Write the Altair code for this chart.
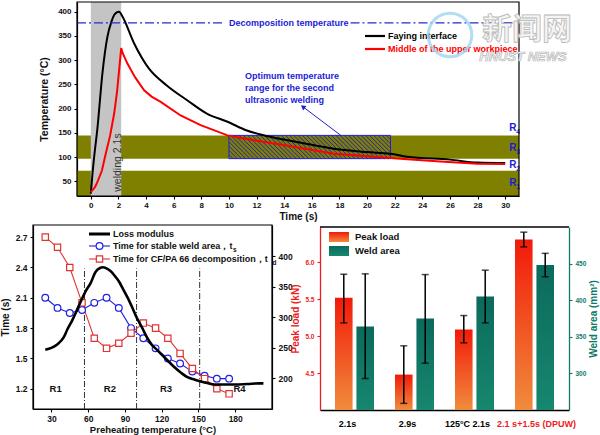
import altair as alt
import pandas as pd
import numpy as np

W, H = 600, 435
FONT = "Liberation Sans"
OLIVE = "#808000"
BLUE = "#1c1cd8"
RED = "#ee1c1c"
TEAL = "#0f7a69"

# ---------------- top panel data ----------------
faying_time = [0, 0.12, 0.24, 0.48, 0.84, 1.2, 1.5, 1.69, 1.85, 2.05, 2.29, 3.13, 4.2, 5.5, 7.0, 8.4, 9.9, 11.3, 13.0, 15.2, 17.6, 20.0, 21.7, 22.9, 26.0, 28.0, 30.0]
faying_temp = [25, 66, 100, 160, 273, 348, 380, 393, 398, 400, 390, 335, 283, 248, 217, 190, 173, 155, 142, 130, 117.5, 110.5, 107, 101, 95, 89, 88]
middle_time = [0, 0.3, 0.48, 0.8, 1.08, 1.4, 1.69, 1.9, 2.05, 2.2, 2.3, 2.65, 3.2, 3.86, 4.4, 5.06, 6.5, 7.95, 9.9, 11.8, 13.5, 15.2, 17.6, 20.0, 22.4, 25.3, 28.0, 30.0]
middle_temp = [28, 38, 49, 72, 107, 145, 190, 235, 280, 325, 315, 293, 265, 238, 225, 214, 186, 166, 145, 135, 127, 119, 107, 102, 97, 91, 86.5, 86]
band_low = [20, 97]
band_high = [72, 145]
top_region_letter = ["R", "R", "R", "R"]
top_region_index = ["1", "2", "3", "4"]
top_region_temp = [46, 83, 118, 161]
weld_window = [0, 2.2]
optimum_time = [10, 21.7]
optimum_temp = [97, 145]
decomp_temp = 377
decomp_segments_start = [-1, 18.8]
decomp_segments_end = [9.5, 31]

# ---------------- bottom-left data ----------------
preheat = [25, 35, 45, 55, 65, 75, 85, 95, 105, 115, 125, 135, 145, 155, 165, 175]
t_stable = [2.10, 2.00, 1.95, 1.98, 2.05, 2.10, 2.00, 1.80, 1.70, 1.60, 1.50, 1.45, 1.37, 1.33, 1.30, 1.30]
t_decomp = [2.70, 2.60, 2.40, 2.05, 1.70, 1.60, 1.65, 1.75, 1.85, 1.80, 1.70, 1.55, 1.40, 1.30, 1.20, 1.15]
loss_T = [25, 30, 35, 40, 43, 47, 50, 54, 58, 62, 66, 70, 72, 75, 78, 82, 85, 88, 92, 96,
          100, 104, 108, 112, 116, 120, 125, 130, 136, 141, 147, 152, 158, 163, 168, 175, 180, 190, 200, 203]
loss_mod = [247, 250, 256, 267, 280, 295, 308, 326, 343, 356, 374, 381, 382, 380, 376, 367, 359, 348, 333, 316,
            298, 283, 267, 255, 247, 239, 229, 219, 209, 202, 198, 195, 192, 190, 190, 190, 190, 191, 192, 192]
region_bounds = [57, 99.5, 151]
bl_regions = ["R1", "R2", "R3", "R4"]
bl_region_T = [33.5, 77.7, 123.5, 183.5]

# ---------------- bottom-right data ----------------
groups = ["2.1s", "2.9s", "125°C  2.1s", "2.1 s+1.5s (DPUW)"]
peak = [5.52, 4.48, 5.09, 6.31]
peak_lo = [5.18, 4.09, 4.91, 6.21]
peak_hi = [5.84, 4.87, 5.28, 6.41]
weld = [364, 375, 405, 448]
weld_lo = [293, 314, 369, 432]
weld_hi = [436, 435, 441, 464]

# ======================= TOP PANEL =======================
TXD, TYD = [-1, 31], [20, 420]
TXR, TYR = [77, 519], [196, 2]
x_top = alt.Scale(domain=TXD, range=TXR, nice=False, zero=False)
y_top = alt.Scale(domain=TYD, range=TYR, nice=False, zero=False)
ax_tx = alt.Axis(orient="bottom", offset=TYR[0] - H, values=list(range(0, 31, 2)), title="Time (s)",
                 labelFontSize=8, titleFontSize=10, tickSize=3, labelPadding=2, titlePadding=2)
ax_ty = alt.Axis(orient="left", offset=-TXR[0], values=list(range(50, 401, 50)), title="Temperature (°C)",
                 labelFontSize=8, titleFontSize=10.5, tickSize=3, labelPadding=3, titlePadding=8)


def TX(field=None, datum=None):
    if field is not None:
        return alt.X(field, type="quantitative", scale=x_top, axis=ax_tx)
    return alt.X(datum=datum, type="quantitative", scale=x_top, axis=ax_tx)


def TY(field=None, datum=None):
    if field is not None:
        return alt.Y(field, type="quantitative", scale=y_top, axis=ax_ty)
    return alt.Y(datum=datum, type="quantitative", scale=y_top, axis=ax_ty)


one = pd.DataFrame({"a": [0]})

bands = alt.Chart(pd.DataFrame({"lo": band_low, "hi": band_high})).mark_rect(color=OLIVE).encode(
    x=TX(datum=TXD[0]), x2=alt.X2(datum=TXD[1]), y=TY("lo"), y2=alt.Y2("hi"))
weld_band = alt.Chart(one).mark_rect(color="#c4c4c4").encode(
    x=TX(datum=weld_window[0]), x2=alt.X2(datum=weld_window[1]), y=TY(datum=TYD[0]), y2=alt.Y2(datum=TYD[1]))


def to_px_x(v):
    return TXR[0] + (v - TXD[0]) / (TXD[1] - TXD[0]) * (TXR[1] - TXR[0])


def to_px_y(v):
    return TYR[0] + (v - TYD[0]) / (TYD[1] - TYD[0]) * (TYR[1] - TYR[0])


def from_px_x(p):
    return TXD[0] + (p - TXR[0]) / (TXR[1] - TXR[0]) * (TXD[1] - TXD[0])


def from_px_y(p):
    return TYD[0] + (p - TYR[0]) / (TYR[1] - TYR[0]) * (TYD[1] - TYD[0])


# hatch lines inside the optimum rectangle (computed from its bounds)
X0, X1 = to_px_x(optimum_time[0]), to_px_x(optimum_time[1])
Y0, Y1 = to_px_y(optimum_temp[1]), to_px_y(optimum_temp[0])
hx, hy, hx2, hy2 = [], [], [], []
for c in np.arange(X0 - Y1, X1 - Y0, 4.2):
    lo = max(Y0, X0 - c)
    hi = min(Y1, X1 - c)
    if hi > lo:
        hx.append(from_px_x(lo + c)); hy.append(from_px_y(lo))
        hx2.append(from_px_x(hi + c)); hy2.append(from_px_y(hi))
hatch = alt.Chart(pd.DataFrame({"x": hx, "y": hy, "x2": hx2, "y2": hy2})).mark_rule(
    color="#2020c8", strokeWidth=1).encode(x=TX("x"), y=TY("y"), x2="x2", y2="y2")
opt_box = alt.Chart(one).mark_rect(fillOpacity=0, stroke="#2020d0", strokeWidth=1).encode(
    x=TX(datum=optimum_time[0]), x2=alt.X2(datum=optimum_time[1]),
    y=TY(datum=optimum_temp[0]), y2=alt.Y2(datum=optimum_temp[1]))

faying = alt.Chart(pd.DataFrame({"t": faying_time, "T": faying_temp})).mark_line(
    color="black", strokeWidth=2, interpolate="monotone").encode(x=TX("t"), y=TY("T"), order="t:Q")
middle = alt.Chart(pd.DataFrame({"t": middle_time, "T": middle_temp})).mark_line(
    color="#ff0000", strokeWidth=2, interpolate="linear").encode(x=TX("t"), y=TY("T"), order="t:Q")

decomp = alt.Chart(pd.DataFrame({"a": decomp_segments_start, "b": decomp_segments_end, "T": [decomp_temp] * 2})).mark_rule(
    color="#2a2ad0", strokeWidth=1.2, strokeDash=[9, 3, 2, 3]).encode(x=TX("a"), x2="b", y=TY("T"))
decomp_txt = alt.Chart(pd.DataFrame({"t": [10.0], "T": [decomp_temp], "s": ["Decomposition temperature"]})).mark_text(
    font=FONT, fontWeight="bold", fontSize=9, color=BLUE, align="left", baseline="middle").encode(
    x=TX("t"), y=TY("T"), text="s:N")

opt_txt = alt.Chart(pd.DataFrame({"t": [11.16], "T": [276], "s": ["Optimum temperature\nrange for the second\nultrasonic welding"]})).mark_text(
    font=FONT, fontWeight="bold", fontSize=9, color=BLUE, align="left", baseline="top", lineBreak="\n",
    lineHeight=12).encode(x=TX("t"), y=TY("T"), text="s:N")
arrow = alt.Chart(pd.DataFrame({"t": [18.1], "T": [145], "t2": [15.4], "T2": [203]})).mark_rule(
    color="#2020c8", strokeWidth=1).encode(x=TX("t"), y=TY("T"), x2="t2", y2="T2")
arrow_head = alt.Chart(pd.DataFrame({"t": [15.4], "T": [203]})).mark_point(
    shape="triangle", filled=True, color="#2020c8", size=30, angle=307, opacity=1).encode(x=TX("t"), y=TY("T"))

weld_txt = alt.Chart(pd.DataFrame({"t": [1.95], "T": [89], "s": ["welding 2.1s"]})).mark_text(
    font=FONT, fontSize=10.5, color="#333333", angle=270, align="center", baseline="middle").encode(
    x=TX("t"), y=TY("T"), text="s:N")
reg_df = pd.DataFrame({"t": [30.3] * 4, "T": top_region_temp, "s": top_region_letter, "i": top_region_index})
top_reg = alt.Chart(reg_df).mark_text(
    font=FONT, fontWeight="bold", fontSize=10, color=BLUE, align="left", baseline="middle").encode(
    x=TX("t"), y=TY("T"), text="s:N")
top_reg_sub = alt.Chart(reg_df).mark_text(
    font=FONT, fontWeight="bold", fontSize=6.5, color=BLUE, align="left", baseline="middle", dx=7, dy=4).encode(
    x=TX("t"), y=TY("T"), text="i:N")
top_frame = alt.Chart(one).mark_rect(fillOpacity=0, stroke="black", strokeWidth=1.2).encode(
    x=TX(datum=TXD[0]), x2=alt.X2(datum=TXD[1]), y=TY(datum=TYD[0]), y2=alt.Y2(datum=TYD[1]))

top = alt.layer(bands, weld_band, hatch, opt_box, faying, middle, decomp, decomp_txt, opt_txt,
                arrow, arrow_head, weld_txt, top_reg, top_reg_sub, top_frame)

# ======================= BOTTOM-LEFT PANEL =======================
BXD, BYD, BRD = [15, 210], [1.0, 2.82], [150, 451]
BXR, BYR = [33, 272], [409, 225]
x_bl = alt.Scale(domain=BXD, range=BXR, nice=False, zero=False)
y_bl = alt.Scale(domain=BYD, range=BYR, nice=False, zero=False)
y_blr = alt.Scale(domain=BRD, range=BYR, nice=False, zero=False)
ax_blx = alt.Axis(orient="bottom", offset=BYR[0] - H, values=[30, 60, 90, 120, 150, 180],
                  title="Preheating temperature (°C)", labelFontSize=8.5, titleFontSize=9.5,
                  tickSize=3, labelPadding=2, titlePadding=2)
ax_bly = alt.Axis(orient="left", offset=-BXR[0], values=[1.2, 1.5, 1.8, 2.1, 2.4, 2.7], format=".1f",
                  title="Time (s)", labelFontSize=8.5, titleFontSize=10, tickSize=3, labelPadding=3, titlePadding=5)
ax_blr = alt.Axis(orient="right", offset=BXR[1] - W, values=[200, 250, 300, 350, 400], title=None,
                  labelFontSize=8.5, tickSize=3, labelPadding=3)


def BX(field=None, datum=None):
    if field is not None:
        return alt.X(field, type="quantitative", scale=x_bl, axis=ax_blx)
    return alt.X(datum=datum, type="quantitative", scale=x_bl, axis=ax_blx)


def BY(field=None, datum=None):
    if field is not None:
        return alt.Y(field, type="quantitative", scale=y_bl, axis=ax_bly)
    return alt.Y(datum=datum, type="quantitative", scale=y_bl, axis=ax_bly)


bl_df = pd.DataFrame({"T": preheat, "ts": t_stable, "td": t_decomp})
bl_frame = alt.Chart(one).mark_rect(fillOpacity=0, stroke="black", strokeWidth=1.2).encode(
    x=BX(datum=BXD[0]), x2=alt.X2(datum=BXD[1]), y=BY(datum=BYD[0]), y2=alt.Y2(datum=BYD[1]))
vlines = alt.Chart(pd.DataFrame({"T": region_bounds, "lo": [BYD[0]] * 3, "hi": [2.39] * 3})).mark_rule(
    color="#333333", strokeWidth=1, strokeDash=[6, 2, 1, 2]).encode(x=BX("T"), y=BY("lo"), y2="hi")
ts_line = alt.Chart(bl_df).mark_line(color="#1f1fe6", strokeWidth=1.1).encode(x=BX("T"), y=BY("ts"))
ts_pts = alt.Chart(bl_df).mark_point(shape="circle", color="#1f1fe6", fill="white", filled=True, stroke="#1f1fe6",
                                     strokeWidth=1.2, size=45, opacity=1).encode(x=BX("T"), y=BY("ts"))
td_line = alt.Chart(bl_df).mark_line(color="#e03333", strokeWidth=1.1).encode(x=BX("T"), y=BY("td"))
td_pts = alt.Chart(bl_df).mark_point(shape="square", color="#e03333", fill="white", filled=True, stroke="#e03333",
                                     strokeWidth=1.2, size=40, opacity=1).encode(x=BX("T"), y=BY("td"))
bl_reg = alt.Chart(pd.DataFrame({"T": bl_region_T, "y": [1.2] * 4, "s": bl_regions})).mark_text(
    font=FONT, fontWeight="bold", fontSize=9.5, color="#111111", baseline="middle").encode(
    x=BX("T"), y=BY("y"), text="s:N")
loss = alt.Chart(pd.DataFrame({"T": loss_T, "E": loss_mod})).mark_line(
    color="black", strokeWidth=2.6, interpolate="monotone").encode(
    x=BX("T"), y=alt.Y("E", type="quantitative", scale=y_blr, axis=ax_blr))

bl = alt.layer(
    alt.layer(bl_frame, vlines, ts_line, td_line, ts_pts, td_pts, bl_reg),
    loss,
).resolve_scale(y="independent")

# ======================= BOTTOM-RIGHT PANEL =======================
RXR, RYR = [320, 569], [410, 227]
PD, WD = [4.0, 6.48], [250, 500]
x_br = alt.Scale(type="band", domain=groups, range=RXR, paddingInner=0.35, paddingOuter=0.25)
xo_br = alt.Scale(type="band", domain=["Peak load", "Weld area"], paddingInner=0.18, paddingOuter=0)
y_pk = alt.Scale(domain=PD, range=RYR, nice=False, zero=False)
y_wa = alt.Scale(domain=WD, range=RYR, nice=False, zero=False)
ax_brx = alt.Axis(orient="bottom", offset=RYR[0] - H, ticks=False, title=None, labelFontSize=9, labelPadding=9,
                  labelAngle=0, domainWidth=1.3,
                  labelColor={"condition": {"test": "datum.value === '2.1 s+1.5s (DPUW)'", "value": RED}, "value": "black"},
                  labelOffset={"condition": {"test": "datum.value === '2.1 s+1.5s (DPUW)'", "value": 2}, "value": -7})
ax_pk = alt.Axis(orient="left", offset=-RXR[0], values=[4.5, 5.0, 5.5, 6.0], format=".1f", title="Peak load (kN)",
                 labelColor=RED, titleColor=RED, domainColor=RED, tickColor=RED, labelFontSize=6.5,
                 titleFontSize=10, tickSize=3, labelPadding=3, titlePadding=4, domainWidth=1.3)
ax_wa = alt.Axis(orient="right", offset=RXR[1] - W, values=[300, 350, 400, 450], title="Weld area (mm²)",
                 labelColor=TEAL, titleColor=TEAL, domainColor=TEAL, tickColor=TEAL, labelFontSize=6.5,
                 titleFontSize=10, tickSize=3, labelPadding=3, titlePadding=3, domainWidth=1.3,
                 titleAngle=270, titleBaseline="top")

grad_red = alt.LinearGradient(gradient="linear", x1=0, x2=0, y1=0, y2=1,
                              stops=[alt.GradientStop(color="#f21a0a", offset=0),
                                     alt.GradientStop(color="#f08c3c", offset=1)])
grad_teal = alt.LinearGradient(gradient="linear", x1=0, x2=0, y1=0, y2=1,
                               stops=[alt.GradientStop(color="#0b6a5c", offset=0),
                                      alt.GradientStop(color="#17876f", offset=1)])

pk_df = pd.DataFrame({"g": groups, "series": "Peak load", "v": peak, "lo": peak_lo, "hi": peak_hi})
wa_df = pd.DataFrame({"g": groups, "series": "Weld area", "v": weld, "lo": weld_lo, "hi": weld_hi})
XB = alt.X("g:N", scale=x_br, axis=ax_brx)
XO = alt.XOffset("series:N", scale=xo_br)


def bar_group(df, grad, yscale, yaxis, base):
    Yf = lambda f: alt.Y(f, type="quantitative", scale=yscale, axis=yaxis)
    b = alt.Chart(df).mark_bar(color=grad).encode(x=XB, xOffset=XO, y=Yf("v"), y2=alt.Y2(datum=base))
    e = alt.Chart(df).mark_rule(color="black", strokeWidth=1.5).encode(x=XB, xOffset=XO, y=Yf("lo"), y2="hi")
    c = alt.Chart(df).transform_fold(["lo", "hi"], as_=["k", "e"]).mark_tick(
        color="black", thickness=1.5, size=7, orient="horizontal").encode(x=XB, xOffset=XO, y=Yf("e:Q"))
    return alt.layer(b, e, c)


br = alt.layer(
    bar_group(pk_df, grad_red, y_pk, ax_pk, PD[0]),
    bar_group(wa_df, grad_teal, y_wa, ax_wa, WD[0]),
).resolve_scale(y="independent")

# ======================= legends, frames, watermark (pixel placed) =======================
PX = lambda f: alt.X(f, type="quantitative", scale=None, axis=None)
PY = lambda f: alt.Y(f, type="quantitative", scale=None, axis=None)

br_top = alt.Chart(pd.DataFrame({"x": [RXR[0]], "x2": [RXR[1]], "y": [RYR[1]]})).mark_rule(
    color="black", strokeWidth=1.3).encode(x=PX("x"), x2="x2", y=PY("y"))

top_leg_lines = alt.Chart(pd.DataFrame({"x": [365, 365], "x2": [385, 385], "y": [36, 49], "c": ["black", "#ff0000"]})).mark_rule(
    strokeWidth=2.2).encode(x=PX("x"), x2="x2", y=PY("y"), color=alt.Color("c:N", scale=None))
top_leg_txt = alt.Chart(pd.DataFrame({"x": [388, 388], "y": [36, 49], "s": ["Faying interface", "Middle of the upper workpiece"],
                                      "c": ["black", "#ff0000"]})).mark_text(
    font=FONT, fontWeight="bold", fontSize=9, align="left", baseline="middle").encode(
    x=PX("x"), y=PY("y"), text="s:N", color=alt.Color("c:N", scale=None))

bl_leg_lines = alt.Chart(pd.DataFrame({"x": [89, 89, 89], "x2": [110, 110, 110], "y": [234, 246, 259],
                                       "c": ["black", "#1f1fe6", "#e03333"], "w": [3, 1.1, 1.1]})).mark_rule().encode(
    x=PX("x"), x2="x2", y=PY("y"), color=alt.Color("c:N", scale=None), strokeWidth=alt.StrokeWidth("w:Q", scale=None))
bl_leg_circ = alt.Chart(pd.DataFrame({"x": [99.5], "y": [246]})).mark_point(
    shape="circle", fill="white", filled=True, stroke="#1f1fe6", strokeWidth=1.2, size=45, opacity=1).encode(x=PX("x"), y=PY("y"))
bl_leg_sq = alt.Chart(pd.DataFrame({"x": [99.5], "y": [259]})).mark_point(
    shape="square", fill="white", filled=True, stroke="#e03333", strokeWidth=1.2, size=40, opacity=1).encode(x=PX("x"), y=PY("y"))
bl_leg_txt = alt.Chart(pd.DataFrame({"x": [113, 113, 113], "y": [234, 246, 259],
                                     "s": ["Loss modulus", "Time for stable weld area，t", "Time for CF/PA 66 decomposition，t"]})).mark_text(
    font=FONT, fontWeight="bold", fontSize=9, align="left", baseline="middle", color="#111111").encode(
    x=PX("x"), y=PY("y"), text="s:N")
bl_leg_sub = alt.Chart(pd.DataFrame({"x": [233, 272.5], "y": [249.5, 262.5], "s": ["s", "d"]})).mark_text(
    font=FONT, fontWeight="bold", fontSize=6.5, align="left", baseline="middle", color="#111111").encode(
    x=PX("x"), y=PY("y"), text="s:N")

br_leg_p = alt.Chart(pd.DataFrame({"x": [329], "x2": [349], "y": [232], "y2": [242]})).mark_rect(color=grad_red).encode(
    x=PX("x"), x2="x2", y=PY("y"), y2="y2")
br_leg_w = alt.Chart(pd.DataFrame({"x": [329], "x2": [349], "y": [246], "y2": [256]})).mark_rect(color=grad_teal).encode(
    x=PX("x"), x2="x2", y=PY("y"), y2="y2")
br_leg_txt = alt.Chart(pd.DataFrame({"x": [355, 355], "y": [237, 251], "s": ["Peak load", "Weld area"]})).mark_text(
    font=FONT, fontWeight="bold", fontSize=9.5, align="left", baseline="middle", color="#111111").encode(
    x=PX("x"), y=PY("y"), text="s:N")

logo = alt.Chart(pd.DataFrame({"x": [450], "y": [35]})).mark_point(
    shape="circle", filled=False, stroke="#9fd6f2", strokeWidth=3, size=1900, opacity=0.8).encode(x=PX("x"), y=PY("y"))
wm1 = alt.Chart(pd.DataFrame({"x": [527], "y": [30], "s": ["新闻网"]})).mark_text(
    font="Noto Sans CJK SC", fontWeight="bold", fontSize=30, color="#f4f4f4", stroke="#b8b8b8", strokeWidth=0.8,
    align="center", baseline="middle").encode(x=PX("x"), y=PY("y"), text="s:N")
wm2 = alt.Chart(pd.DataFrame({"x": [523], "y": [57], "s": ["HNUST NEWS"]})).mark_text(
    font=FONT, fontWeight="bold", fontStyle="italic", fontSize=13, color="#f4f4f4", stroke="#b8b8b8", strokeWidth=0.7,
    align="center", baseline="middle").encode(x=PX("x"), y=PY("y"), text="s:N")

deco = alt.layer(br_top, top_leg_lines, top_leg_txt, bl_leg_lines, bl_leg_circ, bl_leg_sq, bl_leg_txt, bl_leg_sub,
                 br_leg_p, br_leg_w, br_leg_txt, logo, wm1, wm2)

chart = alt.layer(top, bl, br, deco).resolve_scale(x="independent", y="independent").properties(
    width=W, height=H, autosize=alt.AutoSizeParams(type="none"), padding=0
).configure_view(stroke=None).configure_axis(
    labelFont=FONT, titleFont=FONT, labelFontWeight="bold", titleFontWeight="bold",
    domainColor="black", tickColor="black", labelColor="#111111", titleColor="#111111",
    grid=False, domainWidth=1.2, tickWidth=1.1, labelOverlap=False, labelBound=False, labelFlush=False
)

chart.save("out.html", embed_options={"renderer": "svg", "actions": False})
